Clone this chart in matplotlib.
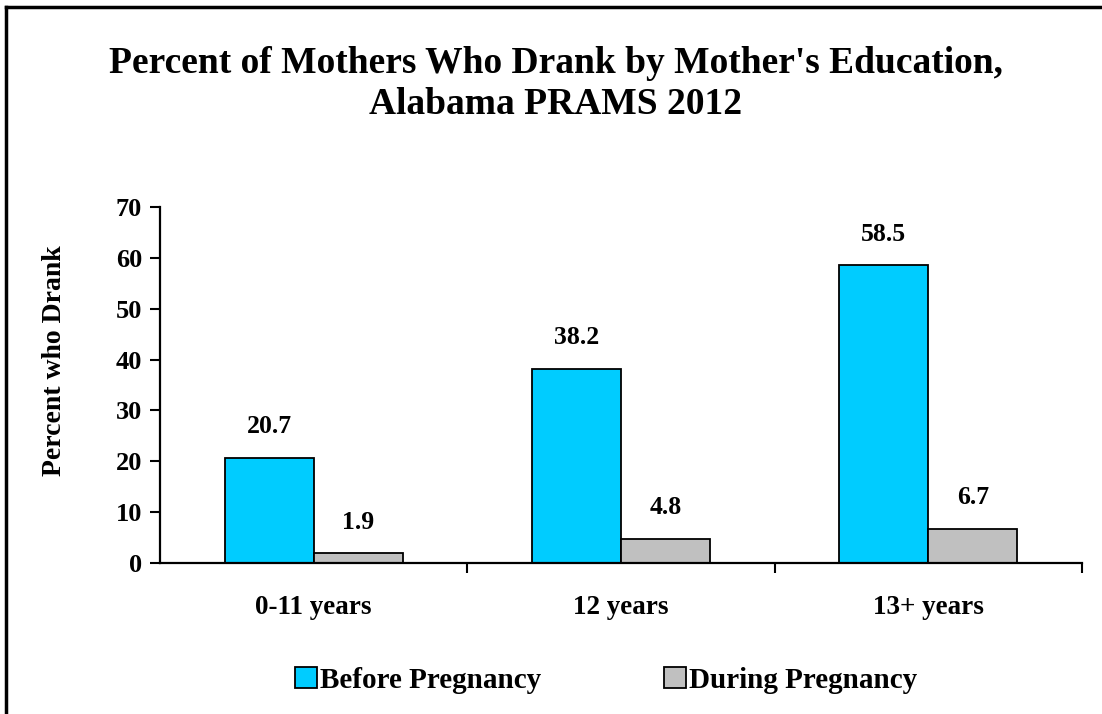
import matplotlib
matplotlib.use("Agg")
import matplotlib.pyplot as plt
import numpy as np
from matplotlib.lines import Line2D

categories = ["0-11 years", "12 years", "13+ years"]
before = [20.7, 38.2, 58.5]
during = [1.9, 4.8, 6.7]
series_names = ["Before Pregnancy", "During Pregnancy"]
yticks = [0, 10, 20, 30, 40, 50, 60, 70]

plt.rcParams['font.family'] = ['Liberation Serif', 'DejaVu Serif']
plt.rcParams['font.weight'] = 'bold'

fig = plt.figure(figsize=(11.02, 7.14), dpi=100)
ax = fig.add_axes([160/1102, 1-563/714, (1082-160)/1102, (563-207)/714])

x = np.arange(len(categories))
w = 0.29
c1 = '#00CCFF'
c2 = '#C0C0C0'
b1 = ax.bar(x - w/2, before, w, color=c1, edgecolor='black', linewidth=1.3, label=series_names[0])
b2 = ax.bar(x + w/2, during, w, color=c2, edgecolor='black', linewidth=1.3, label=series_names[1])

for rect, v in zip(list(b1) + list(b2), before + during):
    ax.annotate(f"{v}", (rect.get_x() + rect.get_width()/2, v), xytext=(0, 14),
                textcoords='offset points', ha='center', va='bottom',
                fontsize=18.5, fontweight='bold')

ax.set_xlim(-0.5, 2.5)
ax.set_ylim(0, 70)
ax.set_yticks(yticks)
ax.set_xticks(x)
ax.set_xticklabels(categories)
ax.set_xticks([0.5, 1.5, 2.5], minor=True)
ax.tick_params(axis='x', which='major', length=0, pad=23, labelsize=19.5)
ax.tick_params(axis='x', which='minor', length=7, width=1.5, direction='out')
ax.tick_params(axis='y', length=7, width=1.5, direction='out', labelsize=19, pad=6)
for t in ax.get_xticklabels() + ax.get_yticklabels():
    t.set_fontweight('bold')
for s in ['top', 'right']:
    ax.spines[s].set_visible(False)
for s in ['left', 'bottom']:
    ax.spines[s].set_linewidth(1.6)

ax.set_ylabel("Percent who Drank", fontsize=20, fontweight='bold', va='center')
ax.yaxis.set_label_coords((55-160)/922, (563-361)/356)

fig.suptitle("Percent of Mothers Who Drank by Mother's Education,\nAlabama PRAMS 2012",
             x=556/1102, y=1-46/714, fontsize=27, fontweight='bold', va='top', linespacing=1.22)

fig.legend(handles=[b1, b2], labels=series_names, loc='center', bbox_to_anchor=(606/1102, 1-680/714),
           ncol=2, frameon=False, handlelength=0.75, handleheight=0.75,
           handletextpad=0.1, columnspacing=4.2, prop={'weight': 'bold', 'size': 21})

fig.add_artist(Line2D([6/1102, 6/1102], [0, 1-7/714], color='black', linewidth=2.5, transform=fig.transFigure))
fig.add_artist(Line2D([6/1102, 1], [1-7/714, 1-7/714], color='black', linewidth=2.5, transform=fig.transFigure))

fig.savefig("out.png", dpi=100)
